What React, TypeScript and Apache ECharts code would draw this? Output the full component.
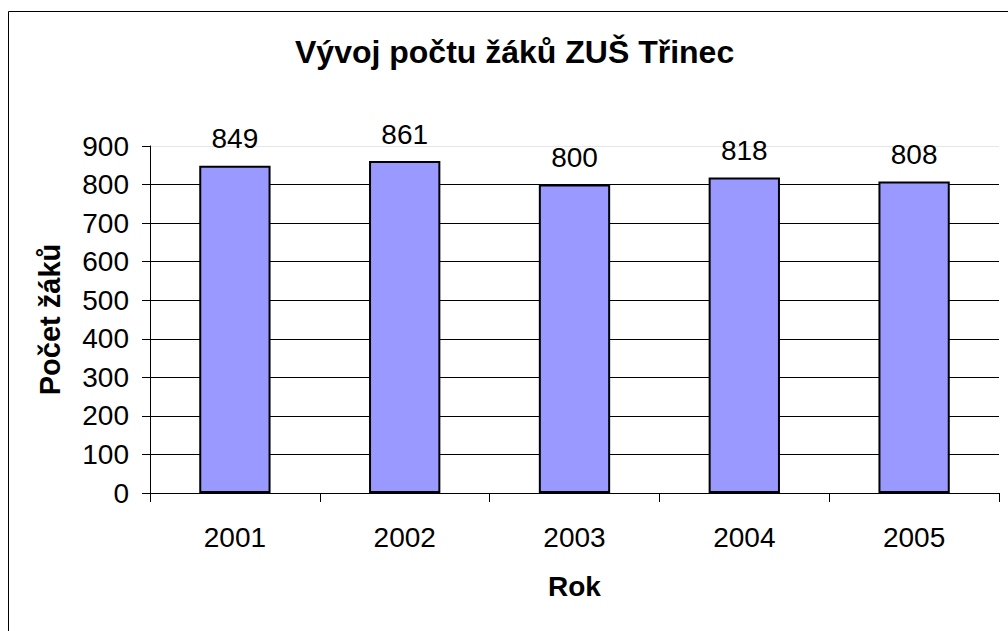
import React, { useEffect, useRef } from "react";
import * as echarts from "echarts";

const categories = ["2001", "2002", "2003", "2004", "2005"];
const values = [849, 861, 800, 818, 808];
const titleText = "Vývoj počtu žáků ZUŠ Třinec";
const yName = "Počet žáků";
const xName = "Rok";

const FONT = "'Liberation Sans', Arial, sans-serif";

export default function App() {
  const ref = useRef<HTMLDivElement>(null);
  useEffect(() => {
    if (!ref.current) return;
    const chart = echarts.init(ref.current, null, { renderer: "svg" });
    chart.setOption({
      animation: false,
      backgroundColor: "#fff",
      textStyle: { fontFamily: FONT, color: "#000" },
      title: {
        text: titleText,
        left: 295,
        top: 36,
        padding: 0,
        textStyle: { fontFamily: FONT, fontSize: 32, fontWeight: "bold", color: "#000" },
      },
      graphic: [
        {
          type: "rect",
          shape: { x: 8.5, y: 11.5, width: 1200, height: 800 },
          style: { fill: "none", stroke: "#000", lineWidth: 1 },
          silent: true,
        },
      ],
      grid: { left: 150, right: 9, top: 146, bottom: 138, containLabel: false },
      xAxis: {
        type: "category",
        data: categories,
        boundaryGap: true,
        name: xName,
        nameLocation: "middle",
        nameGap: 79,
        nameTextStyle: { fontFamily: FONT, fontSize: 28, fontWeight: "bold", color: "#000", verticalAlign: "top" },
        axisLine: { lineStyle: { color: "#000", width: 1 } },
        axisTick: { show: true, alignWithLabel: false, length: 9, lineStyle: { color: "#000" } },
        axisLabel: { fontFamily: FONT, fontSize: 28, color: "#000", margin: 30 },
      },
      yAxis: {
        type: "value",
        min: 0,
        max: 900,
        interval: 100,
        name: yName,
        nameLocation: "middle",
        nameRotate: 90,
        nameGap: 86,
        nameTextStyle: { fontFamily: FONT, fontSize: 29, fontWeight: "bold", color: "#000" },
        axisLine: { show: true, lineStyle: { color: "#000", width: 1 } },
        axisTick: { show: true, length: 8, lineStyle: { color: "#000" } },
        axisLabel: { fontFamily: FONT, fontSize: 28, color: "#000", margin: 21 },
        splitLine: {
          show: true,
          lineStyle: {
            color: ["#000", "#000", "#000", "#000", "#000", "#000", "#000", "#000", "#000", "#e6e6e6"],
            width: 1,
          },
        },
      },
      series: [
        {
          type: "bar",
          data: values,
          barWidth: "42%",
          itemStyle: { color: "#9999FF", borderColor: "#000", borderWidth: 2 },
          label: {
            show: true,
            position: "top",
            distance: 13,
            fontFamily: FONT,
            fontSize: 28,
            color: "#000",
          },
        },
      ],
    });
    return () => chart.dispose();
  }, []);
  return (
    <div
      ref={ref}
      style={{ position: "absolute", left: 0, top: 0, width: 1008, height: 631 }}
    />
  );
}
